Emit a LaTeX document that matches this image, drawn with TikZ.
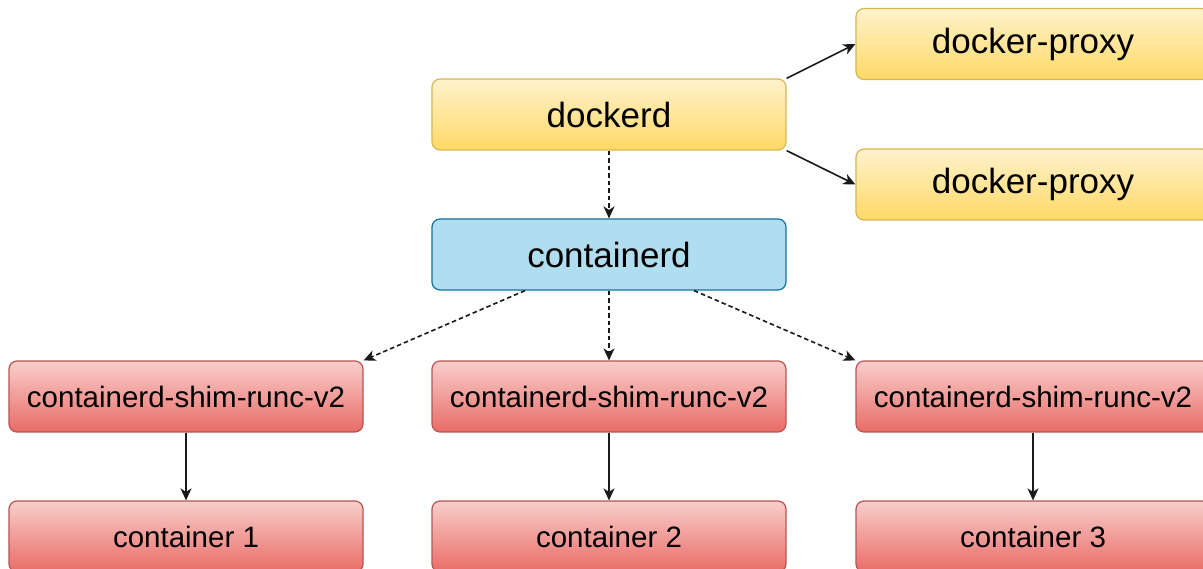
\documentclass[tikz,border=0pt]{standalone}
\usepackage{fontspec}
\setmainfont{Liberation Sans}
\usetikzlibrary{arrows.meta,calc}
\definecolor{ytop}{HTML}{FFF2CC}
\definecolor{ybot}{HTML}{FFD966}
\definecolor{yline}{HTML}{D6B656}
\definecolor{bfill}{HTML}{B1DDF0}
\definecolor{bline}{HTML}{10739E}
\definecolor{rtop}{HTML}{F8CECC}
\definecolor{rbot}{HTML}{EA6B66}
\definecolor{rline}{HTML}{B85450}
\tikzset{
  box/.style={rectangle, rounded corners=8pt, minimum width=354pt, minimum height=71pt, inner sep=0pt, line width=1.2pt},
  ybox/.style={box, draw=yline, top color=ytop, bottom color=ybot, font=\fontsize{35}{42}\selectfont},
  bbox/.style={box, draw=bline, fill=bfill, font=\fontsize{35}{42}\selectfont},
  rbox/.style={box, draw=rline, top color=rtop, bottom color=rbot, font=\fontsize{29.5}{36}\selectfont},
  conn/.style={draw=black!90, line width=1.6pt, -{Stealth[length=12pt,width=11pt,inset=3.5pt]}},
  dconn/.style={conn, dash pattern=on 4.5pt off 3pt},
}
\begin{document}
\begin{tikzpicture}[x=1pt,y=-1pt]
\useasboundingbox (0,0) rectangle (1203,569);
\clip (0,0) rectangle (1203,569);
\fill[white] (0,0) rectangle (1203,569);
\node[ybox] (dockerd) at (609,114.5) {dockerd};
\node[bbox] (containerd) at (609,254.5) {containerd};
\node[ybox] (proxy1) at (1033,44) {docker-proxy};
\node[ybox] (proxy2) at (1033,184.5) {docker-proxy};
\node[rbox] (shim1) at (186,396.5) {containerd-shim-runc-v2};
\node[rbox] (shim2) at (609,396.5) {containerd-shim-runc-v2};
\node[rbox] (shim3) at (1033,396.5) {containerd-shim-runc-v2};
\node[rbox] (c1) at (186,536.5) {container 1};
\node[rbox] (c2) at (609,536.5) {container 2};
\node[rbox] (c3) at (1033,536.5) {container 3};
\draw[conn] (dockerd.north east) -- (proxy1.west);
\draw[conn] (dockerd.south east) -- (proxy2.west);
\draw[dconn] (dockerd.south) -- (containerd.north);
\draw[dconn] ([xshift=-84pt]containerd.south) -- (shim1.north east);
\draw[dconn] (containerd.south) -- (shim2.north);
\draw[dconn] ([xshift=85pt]containerd.south) -- (shim3.north west);
\draw[conn] (shim1.south) -- (c1.north);
\draw[conn] (shim2.south) -- (c2.north);
\draw[conn] (shim3.south) -- (c3.north);
\end{tikzpicture}
\end{document}
